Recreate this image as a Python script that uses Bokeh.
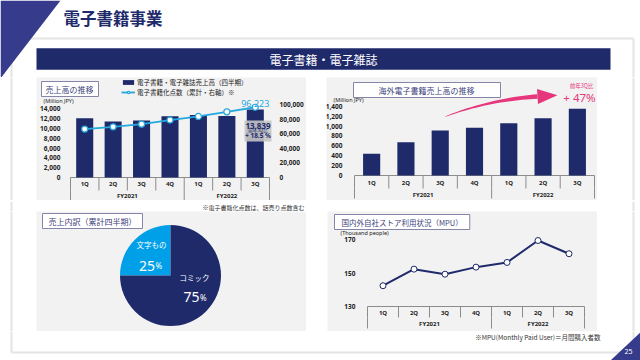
import math
from bokeh.plotting import figure
from bokeh.models import (Range1d, LinearAxis, FixedTicker, NumeralTickFormatter,
                          ColumnDataSource, Label, LabelSet, Legend, LegendItem, BoxAnnotation)
from bokeh.layouts import column, row
from bokeh.embed import file_html
from bokeh.resources import INLINE
from bokeh.core.properties import value

# ---------------- data ----------------
fiscal_years = ["FY2021", "FY2022"]
quarters = [["1Q", "2Q", "3Q", "4Q"], ["1Q", "2Q", "3Q"]]
ebook_sales = [12070, 11400, 11600, 12470, 12760, 12550, 13839]     # Million JPY
ebook_titles = [66300, 69400, 73100, 78600, 83600, 90000, 96223]    # cumulative titles
overseas_sales = [438, 673, 909, 963, 1057, 1158, 1347]             # Million JPY
mpu_values = [142.4, 152.3, 149.3, 153.5, 156.3, 169.4, 161.5]      # Thousand people
pie_labels = ["文字もの", "コミック"]
pie_shares = [25, 75]
sales_yoy = 18.5
overseas_yoy = 47
sales_ticks = [0, 2000, 4000, 6000, 8000, 10000, 12000, 14000]
titles_ticks = [0, 20000, 40000, 60000, 80000, 100000]
overseas_ticks = [0, 200, 400, 600, 800, 1000, 1200, 1400]
mpu_ticks = [130, 150, 170]

factors = [(fy, q) for fy, qs in zip(fiscal_years, quarters) for q in qs]
group_sizes = [len(qs) for qs in quarters]
xpos = [i + 0.5 for i in range(len(factors))]   # category slot centres

# ---------------- style ----------------
NAVY = "#1f2a6b"
LIGHT = "#25a8e0"
PIE_LIGHT = "#00a0e9"
PANEL = "#f2f2f2"
PINK = "#e6367c"
TRI = "#373b8b"
GRID = "#8c8c8c"
TXT = "#222222"
BOXTXT = "#3b3f7a"
BOXLINE = "#8585a8"
SHADOW = "#e4e4e4"
JP = "Noto Sans CJK JP"
NUM = "Noto Sans"
W = 640


class Geo:
    """Pixel geometry of one chart panel (slide coordinates)."""
    def __init__(self, fig_left, fig_top, fig_w, fig_h, c_left, c_right, v0, v0_px, ppv):
        self.fig_left, self.fig_top, self.fig_w, self.fig_h = fig_left, fig_top, fig_w, fig_h
        self.c_left, self.c_right = c_left, c_right
        self.v0, self.v0_px, self.ppv = v0, v0_px, ppv

    def y(self, py):
        return self.v0 + (self.v0_px - py) / self.ppv

    def x(self, px):
        return (px - self.c_left) / (self.c_right - self.c_left) * len(factors)


def chart_fig(g):
    p = figure(width=g.fig_w, height=g.fig_h,
               x_range=Range1d(g.x(g.fig_left), g.x(g.fig_left + g.fig_w)),
               y_range=Range1d(g.y(g.fig_top + g.fig_h), g.y(g.fig_top)),
               x_axis_location=None, y_axis_location=None,
               toolbar_location=None, output_backend="svg", min_border=0,
               background_fill_color=PANEL, border_fill_color=PANEL, outline_line_color=None)
    p.grid.visible = False
    return p


def add_yaxis(p, ticks, loc, side, standoff=4, range_name="default"):
    ax = LinearAxis(fixed_location=loc, y_range_name=range_name)
    ax.ticker = FixedTicker(ticks=ticks)
    ax.formatter = NumeralTickFormatter(format="0,0")
    ax.axis_line_color = None
    ax.major_tick_line_color = None
    ax.minor_tick_line_color = None
    ax.major_label_standoff = standoff
    ax.major_label_text_font = NUM
    ax.major_label_text_font_style = "bold"
    ax.major_label_text_font_size = "6.5px"
    ax.major_label_text_color = TXT
    p.add_layout(ax, side)


def add_table(p, g, top_px, mid_px, bot_px, q_px, fy_px):
    n = len(factors)
    yt, ym, yb = g.y(top_px), g.y(mid_px), g.y(bot_px)
    p.segment(x0=[0], y0=[yt], x1=[n], y1=[yt], line_color=GRID, line_width=1)
    xs = list(range(n + 1))
    p.segment(x0=xs, y0=[yt] * len(xs), x1=xs, y1=[ym] * len(xs), line_color=GRID, line_width=1)
    bounds = [0]
    for s in group_sizes:
        bounds.append(bounds[-1] + s)
    p.segment(x0=bounds, y0=[ym] * len(bounds), x1=bounds, y1=[yb] * len(bounds),
              line_color=GRID, line_width=1)
    p.text(x=xpos, y=[g.y(q_px)] * n, text=[f[1] for f in factors],
           text_font=value(NUM), text_font_style="bold", text_font_size="6px",
           text_color=TXT, text_align="center", text_baseline="middle")
    centers = [(a + b) / 2 for a, b in zip(bounds[:-1], bounds[1:])]
    p.text(x=centers, y=[g.y(fy_px)] * len(centers), text=fiscal_years,
           text_font=value(NUM), text_font_style="bold", text_font_size="6px",
           text_color=TXT, text_align="center", text_baseline="middle")


def box_label(p, text, x, y, pl, pr, size="8px"):
    p.add_layout(Label(x=x, y=y, x_units="canvas", y_units="canvas", text=text,
                       text_font=JP, text_font_size=size, text_color=BOXTXT,
                       text_baseline="top", text_align="left",
                       background_fill_color="white", border_line_color=BOXLINE,
                       border_line_width=1,
                       padding=dict(left=pl, right=pr, top=2, bottom=2)))


def small_label(p, text, x, y, size="5.5px", color=TXT, align="left", font=NUM, style="normal"):
    p.add_layout(Label(x=x, y=y, x_units="canvas", y_units="canvas", text=text,
                       text_font=font, text_font_size=size, text_color=color,
                       text_font_style=style, text_baseline="middle", text_align=align))


def deco_fig(w, h, bg="white"):
    p = figure(width=w, height=h, x_range=Range1d(0, w), y_range=Range1d(0, h),
               x_axis_location=None, y_axis_location=None, toolbar_location=None,
               output_backend="svg", min_border=0, outline_line_color=None,
               background_fill_color=bg, border_fill_color=bg)
    p.grid.visible = False
    return p


def side_fig(w, h, shadow_x, y0=None, y1=None):
    """Blank margin with the faint edge shadow of the white slide panel."""
    p = deco_fig(w, h)
    p.segment(x0=[shadow_x], y0=[0 if y0 is None else y0], x1=[shadow_x],
              y1=[h if y1 is None else y1], line_color=SHADOW, line_width=2)
    return p


# ---------------- header (slide y 0 -> 77) ----------------
hdr = deco_fig(W, 77)
hdr.segment(x0=[12], y0=[39], x1=[633], y1=[39], line_color=SHADOW, line_width=2)
hdr.segment(x0=[633, 11], y0=[39, 39], x1=[633, 11], y1=[0, 0], line_color=SHADOW, line_width=2)
hdr.patch(x=[0, 60, 0], y=[77, 77, -1], fill_color=TRI, line_color=None)
hdr.quad(left=[36], right=[610], bottom=[7.7], top=[29.3], fill_color=NAVY, line_color=None)
hdr.text(x=[63], y=[59.5], text=["電子書籍事業"], text_font=value(JP), text_font_size="16.5px",
         text_font_style="bold", text_color=NAVY, text_baseline="middle", text_align="left")
hdr.text(x=[323], y=[18.5], text=["電子書籍・電子雑誌"], text_font=value(JP), text_font_size="12px",
         text_color="white", text_baseline="middle", text_align="center")

# ---------------- chart 1: sales + titles ----------------
g1 = Geo(36, 77, 270, 123, 70, 269, 0, 177, 68.7 / 14000)
c1 = chart_fig(g1)
add_yaxis(c1, sales_ticks, 0, "left", 4)
r_ppv = 73.0 / 100000
c1.extra_y_ranges = {"right": Range1d((177 - 200) / r_ppv, (177 - 77) / r_ppv)}
add_yaxis(c1, titles_ticks, len(factors), "right", 4, "right")
add_table(c1, g1, 177, 190, 199.5, 183.3, 195)
src1 = ColumnDataSource(dict(x=xpos, sales=ebook_sales, titles=ebook_titles))
bars1 = c1.vbar(x="x", top="sales", width=0.6, source=src1, fill_color=NAVY, line_color=None)
line1 = c1.line(x="x", y="titles", source=src1, y_range_name="right", line_color=LIGHT, line_width=1.8)
pts1 = c1.scatter(x="x", y="titles", source=src1, y_range_name="right", size=6,
                  fill_color="white", line_color=LIGHT, line_width=1.2)
leg = Legend(items=[LegendItem(label="電子書籍・電子雑誌売上高（四半期）", renderers=[bars1]),
                    LegendItem(label="電子書籍化点数（累計・右軸）※", renderers=[line1, pts1])],
             location=(85, 103), padding=0, margin=0, spacing=0, label_height=6, glyph_height=6,
             glyph_width=14, label_standoff=2, label_text_font=JP, label_text_font_size="6.5px",
             label_text_color=TXT, background_fill_alpha=0, border_line_color=None)
c1.add_layout(leg)
last_src = ColumnDataSource(dict(x=[xpos[-1]], y=[ebook_titles[-1]], t=[f"{ebook_titles[-1]:,}"]))
c1.add_layout(LabelSet(x="x", y="y", text="t", source=last_src, y_range_name="right",
                       text_align="center", text_baseline="bottom", text_color=LIGHT,
                       text_font=value(NUM), text_font_size="9px"))
c1.add_layout(BoxAnnotation(left=208, right=235, top=43, bottom=64, left_units="canvas",
                            right_units="canvas", top_units="canvas", bottom_units="canvas",
                            fill_color="#c4c4c4", fill_alpha=0.9, line_color=None))
small_label(c1, f"{ebook_sales[-1]:,}", 221.5, 48, size="8px", color=NAVY, align="center", style="bold")
small_label(c1, "前年3Q比", 221.5, 52.5, size="4.5px", color=NAVY, align="center", font=JP)
small_label(c1, f"+ {sales_yoy} %", 221.5, 57.5, size="6.5px", color=NAVY, align="center", style="bold")
small_label(c1, "(Million JPY)", 7, 23)
box_label(c1, "売上高の推移", 5, 4, 4, 5)

# ---------------- chart 2: overseas ----------------
g2 = Geo(326, 77, 271, 123, 354, 594, 0, 175, 69.3 / 1400)
c2 = chart_fig(g2)
add_yaxis(c2, overseas_ticks, 0, "left", 6)
add_table(c2, g2, 175, 188, 198, 182.5, 194)
src2 = ColumnDataSource(dict(x=xpos, v=overseas_sales))
c2.vbar(x="x", top="v", width=0.5, source=src2, fill_color=NAVY, line_color=None)

# curved arrow (pixel geometry -> data space)
A0, AC, A1 = (445.0, 116.0), (490.0, 99.0), (537.0, 96.0)
up, lo = [], []
for i in range(25):
    t = i / 24
    px = (1 - t) ** 2 * A0[0] + 2 * (1 - t) * t * AC[0] + t * t * A1[0]
    py = (1 - t) ** 2 * A0[1] + 2 * (1 - t) * t * AC[1] + t * t * A1[1]
    dx = 2 * (1 - t) * (AC[0] - A0[0]) + 2 * t * (A1[0] - AC[0])
    dy = 2 * (1 - t) * (AC[1] - A0[1]) + 2 * t * (A1[1] - AC[1])
    L = math.hypot(dx, dy)
    nx, ny = -dy / L, dx / L
    w = 0.3 + 2.0 * t
    up.append((px + nx * w, py + ny * w))
    lo.append((px - nx * w, py - ny * w))
shaft = up + lo[::-1]
dx, dy = A1[0] - AC[0], A1[1] - AC[1]
L = math.hypot(dx, dy)
ux, uy = dx / L, dy / L
head = [(A1[0] - uy * 7.5, A1[1] + ux * 7.5), (A1[0] + ux * 20, A1[1] + uy * 20),
        (A1[0] + uy * 7.5, A1[1] - ux * 7.5)]
c2.patches(xs=[[g2.x(a) for a, b in shaft], [g2.x(a) for a, b in head]],
           ys=[[g2.y(b) for a, b in shaft], [g2.y(b) for a, b in head]],
           fill_color=PINK, line_color=None)
small_label(c2, "前年3Q比", 255, 8.5, size="5.5px", color=PINK, align="center", font=JP)
small_label(c2, f"+ {overseas_yoy}%", 253, 20, size="11.5px", color=PINK, align="center")
small_label(c2, "(Million JPY)", 7, 22)
box_label(c2, "海外電子書籍売上高の推移", 27, 5, 25, 26)

# ---------------- footnote strip (slide y 200 -> 211) ----------------
fn = deco_fig(W, 11)
fn.segment(x0=[633, 11], y0=[0, 0], x1=[633, 11], y1=[11, 11], line_color=SHADOW, line_width=2)
fn.text(x=[304], y=[5.5], text=["※電子書籍化点数は、話売り点数含む"], text_font=value(JP),
        text_font_size="6px", text_color="#333333", text_align="right", text_baseline="middle")

# ---------------- pie ----------------
pie = deco_fig(270, 120, bg=PANEL)
cx, cy, rad = 134, 56, 50.5
start = math.pi / 2
starts, ends = [], []
for s in pie_shares:
    starts.append(start)
    start += s / sum(pie_shares) * 2 * math.pi
    ends.append(start)
pie.wedge(x=[cx] * len(pie_shares), y=[cy] * len(pie_shares), radius=rad,
          start_angle=starts, end_angle=ends, fill_color=[PIE_LIGHT, NAVY], line_color=None)
name_pos = [(115, 87), (158, 54)]
pct_pos = [(118.5, 66), (163, 34.5)]
pie.text(x=[p[0] for p in name_pos], y=[p[1] for p in name_pos], text=pie_labels,
         text_font=value(JP), text_font_size="7.5px", text_color="white",
         text_align="center", text_baseline="middle")
pie.text(x=[p[0] for p in pct_pos], y=[p[1] for p in pct_pos], text=[str(s) for s in pie_shares],
         text_font=value(NUM), text_font_size="14px", text_color="white",
         text_align="right", text_baseline="alphabetic")
pie.text(x=[p[0] + 0.5 for p in pct_pos], y=[p[1] for p in pct_pos], text=["%"] * len(pie_shares),
         text_font=value(NUM), text_font_size="8px", text_color="white",
         text_align="left", text_baseline="alphabetic")
box_label(pie, "売上内訳（累計四半期）", 6, 2, 6, 6)

# ---------------- MPU ----------------
g4 = Geo(327, 211, 270, 120, 367, 584, 130, 306, 67.0 / 40)
c4 = chart_fig(g4)
add_yaxis(c4, mpu_ticks, 0, "left", 6)
add_table(c4, g4, 306, 317, 328, 312, 323.5)
src4 = ColumnDataSource(dict(x=xpos, v=mpu_values))
c4.line(x="x", y="v", source=src4, line_color=NAVY, line_width=2)
c4.scatter(x="x", y="v", source=src4, size=6, fill_color="white", line_color=NAVY, line_width=1)
small_label(c4, "(Thousand people)", 13, 21.5)
box_label(c4, "国内外自社ストア利用状況（MPU）", 7, 3, 7, 7, size="7.5px")

# ---------------- footer (slide y 331 -> 360) ----------------
ft = deco_fig(W, 29)
ft.segment(x0=[633, 11], y0=[8, 8], x1=[633, 11], y1=[29, 29], line_color=SHADOW, line_width=2)
ft.segment(x0=[11], y0=[8], x1=[633], y1=[8], line_color=SHADOW, line_width=2)
ft.text(x=[600], y=[24], text=["※MPU(Monthly Paid User)＝月間購入者数"], text_font=value(JP),
        text_font_size="6.5px", text_color="#333333", text_align="right", text_baseline="middle")
ft.patch(x=[610, 640, 640], y=[0, 28.3, 0], fill_color=TRI, line_color=None)
ft.text(x=[628], y=[9], text=["25"], text_font=value(NUM), text_font_size="7px",
        text_color="white", text_align="center", text_baseline="middle")

layout = column(
    hdr,
    row(side_fig(36, 123, 11), c1, deco_fig(20, 123), c2, side_fig(43, 123, 36)),
    fn,
    row(side_fig(36, 120, 11), pie, deco_fig(21, 120), c4, side_fig(43, 120, 36)),
    ft,
)

open("out.html", "w").write(file_html(layout, INLINE))
